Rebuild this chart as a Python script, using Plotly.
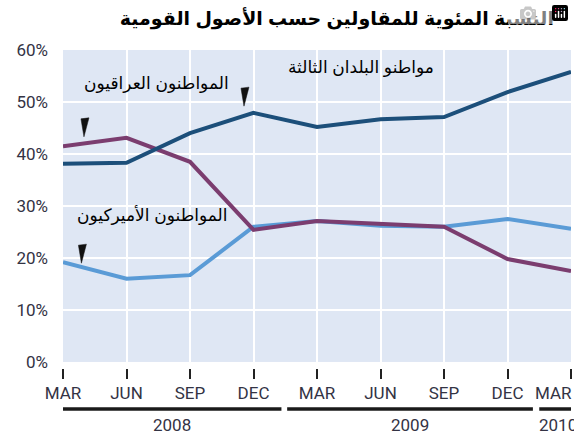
import plotly.graph_objects as go

months = ["MAR", "JUN", "SEP", "DEC", "MAR", "JUN", "SEP", "DEC", "MAR"]
years = ["2008", "2009", "2010"]
third_countries = [38.1, 38.3, 44.0, 47.9, 45.2, 46.7, 47.1, 51.9, 55.8]
iraqi = [41.5, 43.1, 38.5, 25.4, 27.1, 26.5, 26.0, 19.8, 17.5]
american = [19.2, 16.0, 16.7, 26.0, 27.1, 26.2, 26.0, 27.5, 25.6]
y_ticks = [0, 10, 20, 30, 40, 50, 60]

title = "النسبة المئوية للمقاولين حسب الأصول القومية"
lbl_third = "مواطنو البلدان الثالثة"
lbl_iraqi = "المواطنون العراقيون"
lbl_american = "المواطنون الأميركيون"

xs = list(range(len(months)))

C_DARK = "#1c4f7a"
C_PURPLE = "#7b3d6f"
C_LIGHT = "#5a9bd6"
BG = "#dfe7f4"
TXT = "#333344"
AR_FONT = "Arial, Liberation Sans, DejaVu Sans, sans-serif"
NUM_FONT = "Roboto, Liberation Sans, sans-serif"

fig = go.Figure()
for vals, col in [(american, C_LIGHT), (iraqi, C_PURPLE), (third_countries, C_DARK)]:
    fig.add_trace(go.Scatter(x=xs, y=vals, mode="lines",
                             line=dict(color=col, width=4), hoverinfo="skip",
                             showlegend=False, cliponaxis=False))

# small black wedge pointers near labels (anchored to data, drawn in pixels)
wedge = "M -3 18 L 5 19 L 0 0 Z"
for xa, ya in [(0.33, 43.3), (2.85, 49.2), (0.29, 19.0)]:
    fig.add_shape(type="path", xref="x", yref="y", xsizemode="pixel", ysizemode="pixel",
                  xanchor=xa, yanchor=ya, path=wedge,
                  fillcolor="#111111", line=dict(color="#111111", width=0.5))

# series labels
for txt, xa, ya in [(lbl_iraqi, 1.48, 53.6), (lbl_third, 4.70, 56.6), (lbl_american, 1.40, 28.3)]:
    fig.add_annotation(x=xa, y=ya, xref="x", yref="y", text=txt, showarrow=False,
                       font=dict(family=AR_FONT, size=17, color="#000000"))

# last month label is pushed left to stay inside the page
fig.add_annotation(x=xs[-1], y=-0.078, xref="x", yref="paper", text=months[-1],
                   showarrow=False, xanchor="right", yanchor="middle", xshift=3,
                   font=dict(family=NUM_FONT, size=17, color=TXT))

# year bars and labels
bars = [(years[0], -0.02, 3.44, 1.72, "center"),
        (years[1], 3.53, 7.40, 5.46, "center"),
        (years[2], 7.50, 8.2, 7.47, "left")]
for yr, x0, x1, xl, anc in bars:
    fig.add_shape(type="line", xref="x", yref="paper", x0=x0, x1=x1, y0=-0.129, y1=-0.129,
                  line=dict(color="#1a1a1a", width=3.5))
    fig.add_annotation(x=xl, y=-0.179, xref="x", yref="paper", text=yr, showarrow=False,
                       xanchor=anc, yanchor="middle",
                       font=dict(family=NUM_FONT, size=17, color=TXT))

fig.update_layout(
    width=574, height=438,
    margin=dict(l=63, r=3, t=50, b=70, autoexpand=False),
    paper_bgcolor="white", plot_bgcolor=BG,
    title=dict(text="<b>" + title + "</b>", x=0.587, xanchor="center", y=0.959, yanchor="middle",
               font=dict(family=AR_FONT, size=19, color="#000000")),
    xaxis=dict(range=[0, 8], tickvals=xs, ticktext=months[:-1] + [""], anchor="free", position=0,
               automargin=False,
               showgrid=True, gridcolor="white", gridwidth=1.5, zeroline=False,
               showline=False, ticks="outside", ticklen=10, tickwidth=1.5, tickcolor="#222222",
               tickfont=dict(family=NUM_FONT, size=17, color=TXT), fixedrange=True),
    yaxis=dict(range=[0, 60], domain=[0.019, 1], tickvals=y_ticks,
               ticktext=[f"{v}%" for v in y_ticks], automargin=False,
               showgrid=True, gridcolor="white", gridwidth=1.5, zeroline=False,
               showline=False, ticks="", ticklabelstandoff=14,
               tickfont=dict(family=NUM_FONT, size=17, color=TXT), fixedrange=True),
)

# remove the default page margin so the 574x438 figure fills the window exactly
fig.write_html("out.html",
               post_script="document.body.style.margin='0';document.body.style.overflow='hidden';")
